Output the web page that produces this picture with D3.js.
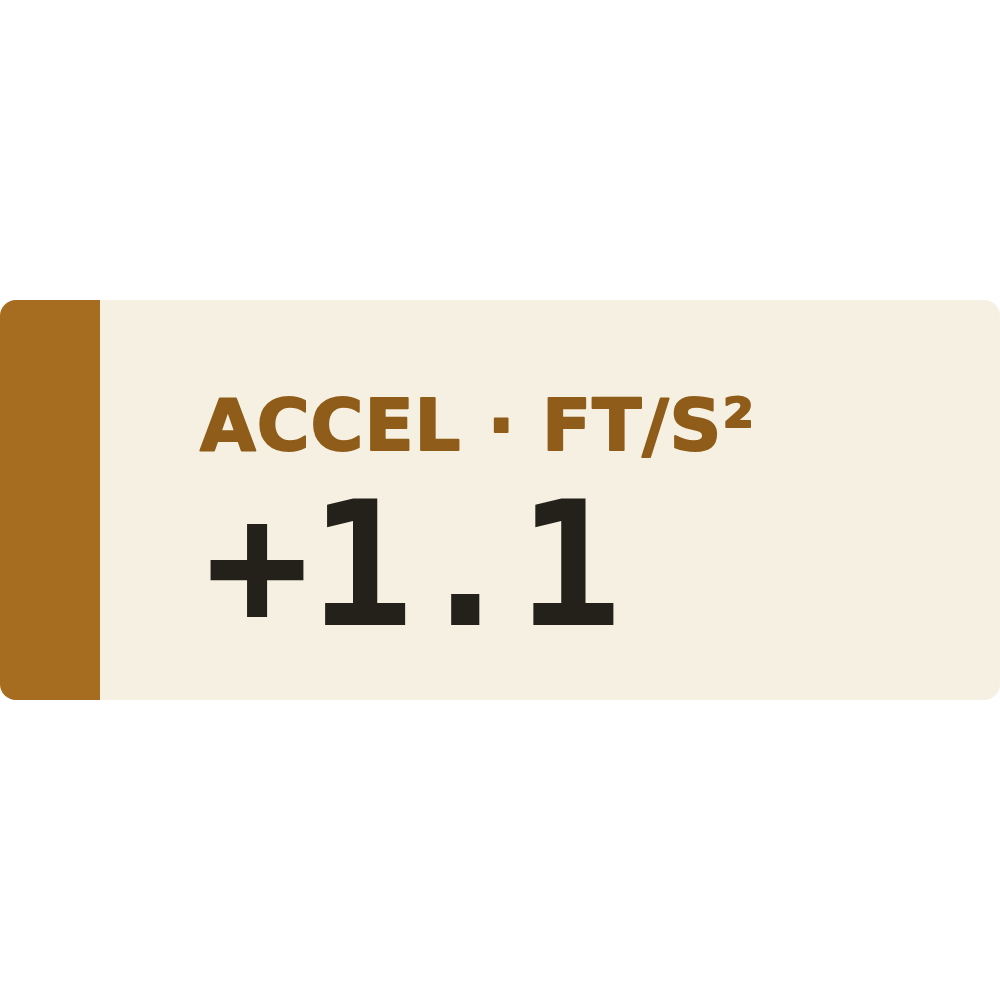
<!DOCTYPE html>
<html lang="en">
<head>
<meta charset="UTF-8">
<title>KPI card</title>
<script src="https://cdn.jsdelivr.net/npm/d3@7"></script>
<style>
  html, body { margin: 0; padding: 0; background: #fff; }
</style>
</head>
<body>
<div id="container"></div>
<script>
"use strict";

// card content
var labels = ["ACCEL · FT/S²"];
var values = [1.1];

var width = 1000, height = 1000;

var svg = d3.select("#container").append("svg")
  .attr("width", width)
  .attr("height", height);

var card = { x: 0, y: 300, w: 1000, h: 400, r: 16, bar: 100 };

var clip = svg.append("clipPath").attr("id", "cardClip");
clip.append("rect")
  .attr("x", card.x).attr("y", card.y)
  .attr("width", card.w).attr("height", card.h)
  .attr("rx", card.r).attr("ry", card.r);

var g = svg.append("g").attr("clip-path", "url(#cardClip)");

g.append("rect")
  .attr("x", card.x).attr("y", card.y)
  .attr("width", card.w).attr("height", card.h)
  .attr("fill", "#F5F0E1");

g.append("rect")
  .attr("x", card.x).attr("y", card.y)
  .attr("width", card.bar).attr("height", card.h)
  .attr("fill", "#A66C1F");

var fmt = d3.format("+.1f");

svg.selectAll("text.label")
  .data(labels)
  .enter().append("text")
  .attr("class", "label")
  .attr("x", 200)
  .attr("y", 450)
  .attr("font-family", "'DejaVu Sans', sans-serif")
  .attr("font-weight", 700)
  .attr("font-size", 72)
  .attr("letter-spacing", 1)
  .attr("fill", "#8F5C1A")
  .attr("stroke", "#8F5C1A")     // a little extra weight
  .attr("stroke-width", 2)
  .attr("stroke-linejoin", "round")
  .text(function (d) { return d; });

svg.selectAll("text.value")
  .data(values)
  .enter().append("text")
  .attr("class", "value")
  .attr("x", 205)
  .attr("y", 625)
  .attr("font-family", "'DejaVu Sans Mono', monospace")
  .attr("font-weight", 700)
  .attr("font-size", 173)
  .attr("fill", "#24201A")
  .text(function (d) { return fmt(d); });
</script>
</body>
</html>
